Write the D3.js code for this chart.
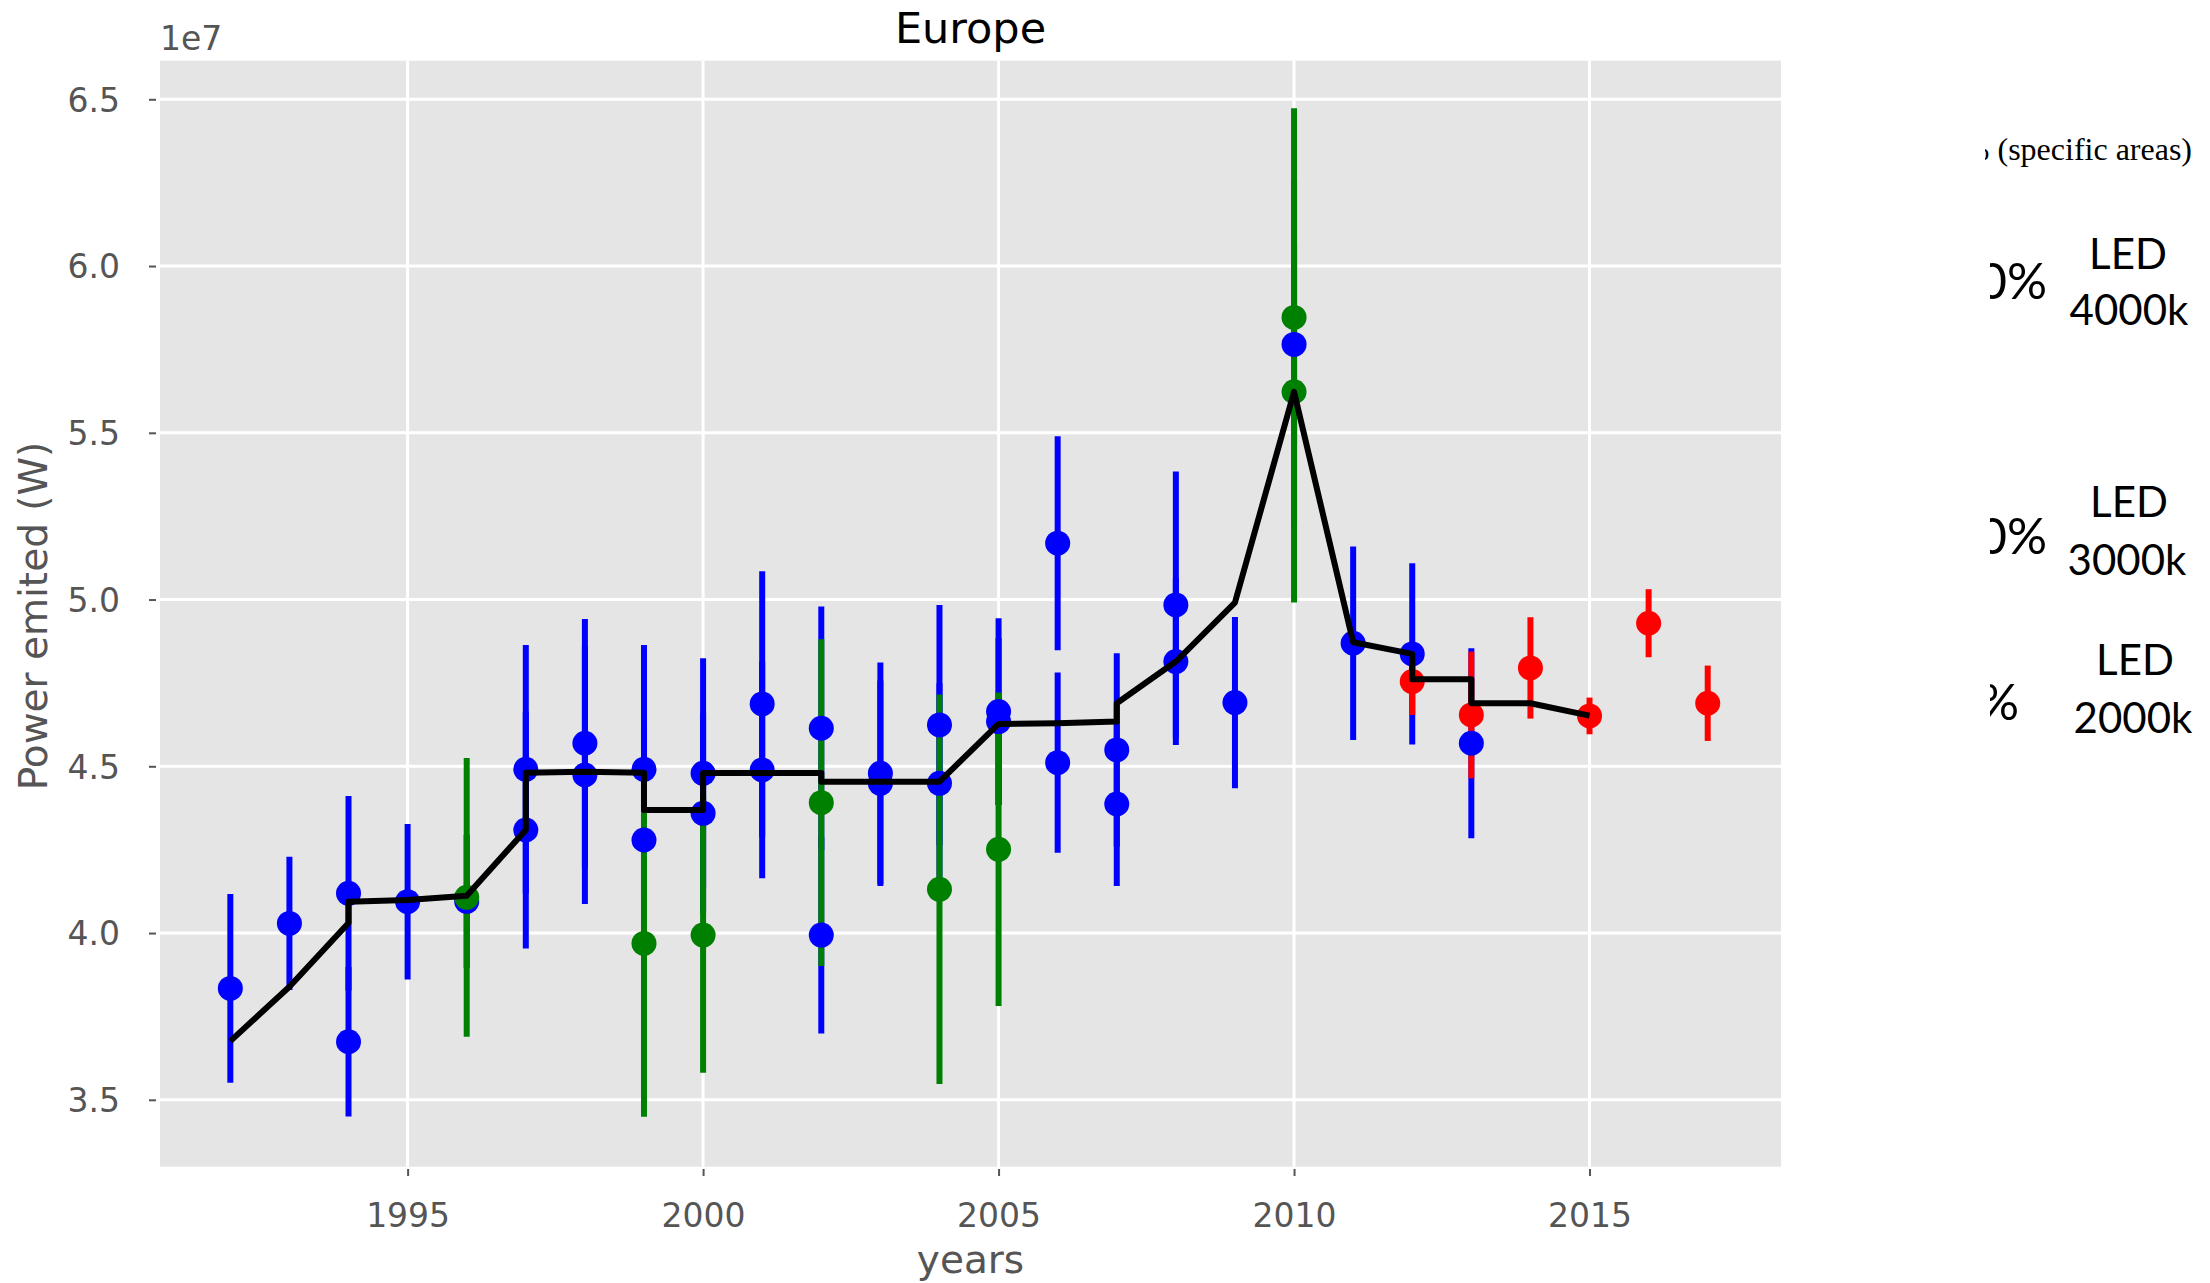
<!DOCTYPE html>
<html><head><meta charset="utf-8">
<script src="https://cdn.jsdelivr.net/npm/d3@7"></script>
<style>html,body{margin:0;padding:0;background:#fff;} svg{display:block;}</style>
</head><body>
<svg id="chart" width="2210" height="1283"></svg>
<script>
// ---- data (values in units of 1e7 W) ----
const blueYears  = [1992,1993,1994,1994,1995,1996,1997,1997,1998,1998,1999,1999,2000,2000,2001,2001,2002,2002,2003,2003,2004,2004,2005,2005,2006,2006,2007,2007,2008,2008,2009,2010,2011,2012,2013];
const blueValues = [3.834,4.029,4.119,3.674,4.094,4.095,4.491,4.309,4.569,4.474,4.491,4.279,4.479,4.359,4.687,4.489,4.614,3.994,4.479,4.449,4.624,4.449,4.664,4.634,5.169,4.511,4.549,4.387,4.984,4.814,4.691,5.765,4.869,4.837,4.569];
const blueErrors = [0.283,0.2,0.292,0.224,0.233,0.2,0.373,0.355,0.373,0.387,0.373,0.35,0.345,0.3,0.398,0.325,0.365,0.295,0.332,0.308,0.36,0.3,0.28,0.25,0.321,0.27,0.29,0.246,0.4,0.25,0.257,0.3,0.29,0.272,0.285];

const greenYears  = [1996,1999,2000,2002,2004,2005,2010,2010];
const greenValues = [4.107,3.969,3.994,4.391,4.131,4.251,5.846,5.623];
const greenErrors = [0.418,0.52,0.413,0.49,0.584,0.47,0.627,0.632];

const redYears  = [2012,2013,2014,2015,2016,2017];
const redValues = [4.754,4.654,4.795,4.651,4.929,4.689];
const redErrors = [0.1,0.19,0.152,0.055,0.102,0.113];

const lineYears  = [1992,1993,1994,1994,1995,1996,1997,1997,1998,1999,1999,2000,2000,2001,2002,2002,2003,2004,2005,2006,2007,2007,2008,2009,2010,2011,2012,2012,2013,2013,2014,2015];
const lineValues = [3.676,3.839,4.03,4.094,4.099,4.112,4.309,4.481,4.484,4.481,4.369,4.369,4.48,4.48,4.48,4.454,4.454,4.454,4.627,4.629,4.634,4.689,4.814,4.991,5.623,4.872,4.837,4.761,4.761,4.689,4.689,4.652];

const xTicks = [1995,2000,2005,2010,2015];
const yTicks = [3.5,4.0,4.5,5.0,5.5,6.0,6.5];

const titleText = "Europe";
const xLabel = "years";
const yLabel = "Power emited (W)";
const offsetLabel = "1e7";

// fragments of an overlapping annotation on the right
const sideHeader = "% (specific areas)";
const sidePercents = ["0%", "0%", "%"];
const sideLed = ["LED", "LED", "LED"];
const sideKelvin = ["4000k", "3000k", "2000k"];

// ---- layout ----
const L = 160, R = 1781, T = 60.7, B = 1166.7;
const svg = d3.select("#chart");
const x = d3.scaleLinear().domain([1990.81, 2018.24]).range([L, R]);
const y = d3.scaleLinear().domain([3.2994, 6.6157]).range([B, T]);

const tickFont = "DejaVu Sans, sans-serif";

svg.append("rect").attr("x", L).attr("y", T).attr("width", R - L).attr("height", B - T).attr("fill", "#E5E5E5");

// grid
const grid = svg.append("g");
grid.selectAll(".gx").data(xTicks).enter().append("line")
  .attr("x1", d => x(d)).attr("x2", d => x(d)).attr("y1", T).attr("y2", B)
  .attr("stroke", "#fff").attr("stroke-width", 3);
grid.selectAll(".gy").data(yTicks).enter().append("line")
  .attr("y1", d => y(d)).attr("y2", d => y(d)).attr("x1", L).attr("x2", R)
  .attr("stroke", "#fff").attr("stroke-width", 3);

// axes
const yAxis = d3.axisLeft(y).tickValues(yTicks).tickFormat(d3.format(".1f")).tickSizeInner(7).tickSizeOuter(0).tickPadding(29);
const gy = svg.append("g").attr("transform", `translate(156,0)`).call(yAxis);
gy.select(".domain").remove();
gy.selectAll("line").attr("stroke", "#555").attr("stroke-width", 2);
gy.selectAll("text").attr("fill", "#555").style("font-family", tickFont).style("font-size", "33px").attr("dy", "0.36em");

const xAxis = d3.axisBottom(x).tickValues(xTicks).tickFormat(d3.format("d")).tickSizeInner(7).tickSizeOuter(0);
const gx = svg.append("g").attr("transform", `translate(0,1169)`).call(xAxis);
gx.select(".domain").remove();
gx.selectAll("line").attr("stroke", "#555").attr("stroke-width", 2);
gx.selectAll("text").attr("fill", "#555").style("font-family", tickFont).style("font-size", "33px").attr("y", 58).attr("dy", 0);

// error bars
function bars(years, vals, errs, color) {
  svg.append("g").selectAll("line").data(years.map((d, i) => [d, vals[i], errs[i]])).enter().append("line")
    .attr("x1", d => x(d[0])).attr("x2", d => x(d[0]))
    .attr("y1", d => y(d[1] - d[2])).attr("y2", d => y(d[1] + d[2]))
    .attr("stroke", color).attr("stroke-width", 6);
}
function dots(years, vals, color) {
  svg.append("g").selectAll("circle").data(years.map((d, i) => [d, vals[i]])).enter().append("circle")
    .attr("cx", d => x(d[0])).attr("cy", d => y(d[1])).attr("r", 12.5).attr("fill", color);
}
bars(blueYears, blueValues, blueErrors, "#0000FF");
bars(greenYears, greenValues, greenErrors, "#008000");
bars(redYears, redValues, redErrors, "#FF0000");
dots(blueYears, blueValues, "#0000FF");
dots(greenYears, greenValues, "#008000");
dots(redYears, redValues, "#FF0000");

const line = d3.line().x(d => x(d[0])).y(d => y(d[1]));
svg.append("path").datum(lineYears.map((d, i) => [d, lineValues[i]]))
  .attr("d", line).attr("fill", "none").attr("stroke", "#000").attr("stroke-width", 6).attr("stroke-linejoin", "round");

// texts
svg.append("text").attr("x", (L + R) / 2).attr("y", 43).attr("text-anchor", "middle")
  .style("font-family", tickFont).style("font-size", "43px").attr("fill", "#000").text(titleText);
svg.append("text").attr("x", 160).attr("y", 50)
  .style("font-family", tickFont).style("font-size", "33px").attr("fill", "#555").text(offsetLabel);
svg.append("text").attr("x", (L + R) / 2).attr("y", 1273).attr("text-anchor", "middle")
  .style("font-family", tickFont).style("font-size", "39px").attr("fill", "#555").text(xLabel);
svg.append("text").attr("transform", `translate(47,616) rotate(-90)`).attr("text-anchor", "middle")
  .style("font-family", tickFont).style("font-size", "39px").attr("fill", "#555").text(yLabel);

// right-side annotation fragments (clipped at left)
const defs = svg.append("defs");
defs.append("clipPath").attr("id", "sideClip").append("rect")
  .attr("x", 1990).attr("y", 0).attr("width", 230).attr("height", 1283);
defs.append("clipPath").attr("id", "headClip").append("rect")
  .attr("x", 1985).attr("y", 0).attr("width", 230).attr("height", 1283);
svg.append("g").attr("clip-path", "url(#headClip)")
  .append("text").attr("x", 2192).attr("y", 160).attr("text-anchor", "end")
  .style("font-family", "Liberation Serif, serif").style("font-size", "32px").attr("fill", "#000").text(sideHeader);
const side = svg.append("g").attr("clip-path", "url(#sideClip)");
const pctX = [2047, 2047, 2019], pctY = [299, 554, 720];
const ledX = [2128, 2129, 2135], ledY = [269, 517, 675];
const kX = [2129, 2127, 2133], kY = [325, 575, 733];
sidePercents.forEach((t, i) => {
  side.append("text").attr("x", pctX[i]).attr("y", pctY[i]).attr("text-anchor", "end")
    .style("font-family", "Lato, sans-serif").style("font-size", "50px").attr("fill", "#000").text(t);
  side.append("text").attr("x", ledX[i]).attr("y", ledY[i]).attr("text-anchor", "middle")
    .style("font-family", "Lato, sans-serif").style("font-size", "42px").attr("fill", "#000").text(sideLed[i]);
  side.append("text").attr("x", kX[i]).attr("y", kY[i]).attr("text-anchor", "middle")
    .style("font-family", "Lato, sans-serif").style("font-size", "42px").attr("fill", "#000").text(sideKelvin[i]);
});
</script>
</body></html>
